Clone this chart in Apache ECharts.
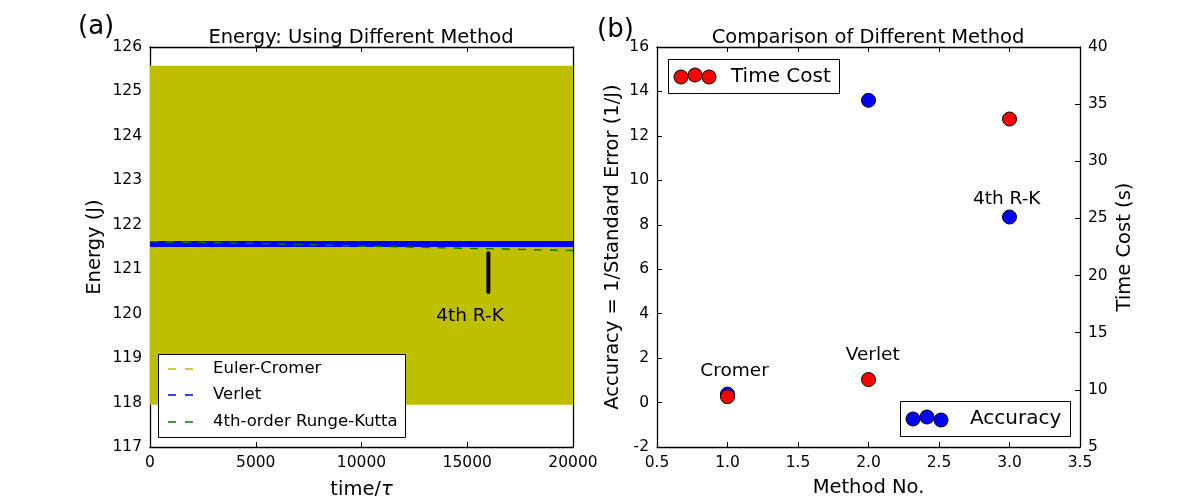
<!DOCTYPE html>
<html>
<head>
<meta charset="utf-8">
<script src="https://cdn.jsdelivr.net/npm/echarts@6/dist/echarts.min.js"></script>
<style>
  html, body { margin: 0; padding: 0; background: #fff; }
  #chart { width: 1200px; height: 496px; }
</style>
</head>
<body>
<div id="chart"></div>
<script>
// panel (a): energy vs time
const timeSteps = [0, 5000, 10000, 15000, 20000];
const eulerMax = [125.58, 125.58, 125.58, 125.58, 125.58];
const eulerMin = [117.95, 117.95, 117.95, 117.95, 117.95];
const verletEnergy = [121.57, 121.57, 121.57, 121.57, 121.57];
const rk4Energy = [121.62, 121.58, 121.52, 121.47, 121.42];
const rkMarkX = [16000, 16000];
const rkMarkY = [121.36, 120.49];
const rkTextPos = [15130, 119.95];

// panel (b): method comparison
const methodNo = [1.0, 2.0, 3.0];
const methodNames = ['Cromer', 'Verlet', '4th R-K'];
const accuracy = [0.38, 13.6, 8.35];
const timeCost = [9.4, 10.9, 33.7];
const labelX = [1.05, 2.03, 2.98];
const labelY = [1.42, 2.14, 9.16];

const FONT = 'DejaVu Sans';
const axisLine = { show: true, onZero: false, lineStyle: { color: '#000', width: 1.3 } };
const tickIn = { show: true, inside: true, length: 5, lineStyle: { color: '#000', width: 1 } };
const tickLabel = { color: '#000', fontSize: 15.5, fontFamily: FONT, margin: 8 };
const nameStyle = { fontSize: 19.5, color: '#000', fontFamily: FONT };
const hidden = { color: 'transparent', borderWidth: 0, opacity: 1 };
const noteLabel = { show: true, position: 'inside', fontSize: 18.5, color: '#000',
                    fontFamily: FONT, opacity: 1 };

function pairs(xs, ys) {
    return xs.map((x, i) => [x, ys[i]]);
}

const chart = echarts.init(document.getElementById('chart'));

const option = {
    backgroundColor: '#fff',
    animation: false,
    textStyle: { fontFamily: FONT },
    title: [
        { text: 'Energy: Using Different Method', left: 356, top: 23, textAlign: 'center',
          textStyle: { fontSize: 19.5, fontWeight: 'normal', color: '#000', fontFamily: FONT } },
        { text: 'Comparison of Different Method', left: 863, top: 23, textAlign: 'center',
          textStyle: { fontSize: 19.5, fontWeight: 'normal', color: '#000', fontFamily: FONT } }
    ],
    grid: [
        { left: 150, top: 47, width: 423, height: 400, outerBoundsMode: 'none', containLabel: false },
        { left: 657, top: 47, width: 423, height: 400, outerBoundsMode: 'none', containLabel: false }
    ],
    xAxis: [
        { gridIndex: 0, type: 'value', min: 0, max: 20000, interval: 5000,
          axisLine: axisLine, axisTick: tickIn,
          axisLabel: Object.assign({}, tickLabel, { formatter: v => String(v) }),
          splitLine: { show: false },
          name: '{a|time/}{b|τ}', nameLocation: 'middle', nameGap: 33,
          nameTextStyle: { rich: {
              a: { fontSize: 19.5, color: '#000', fontFamily: FONT },
              b: { fontSize: 19.5, color: '#000', fontFamily: FONT, fontStyle: 'italic' } } } },
        { gridIndex: 0, type: 'value', position: 'top', min: 0, max: 20000, interval: 5000,
          axisLine: axisLine, axisTick: tickIn, axisLabel: { show: false }, splitLine: { show: false } },
        { gridIndex: 1, type: 'value', min: 0.5, max: 3.5, interval: 0.5,
          axisLine: axisLine, axisTick: tickIn,
          axisLabel: Object.assign({}, tickLabel, { formatter: v => v.toFixed(1) }),
          splitLine: { show: false },
          name: 'Method No.', nameLocation: 'middle', nameGap: 31, nameTextStyle: nameStyle },
        { gridIndex: 1, type: 'value', position: 'top', min: 0.5, max: 3.5, interval: 0.5,
          axisLine: axisLine, axisTick: tickIn, axisLabel: { show: false }, splitLine: { show: false } }
    ],
    yAxis: [
        { gridIndex: 0, type: 'value', min: 117, max: 126, interval: 1,
          axisLine: axisLine, axisTick: tickIn, axisLabel: tickLabel, splitLine: { show: false },
          name: 'Energy (J)', nameLocation: 'middle', nameGap: 45, nameTextStyle: nameStyle },
        { gridIndex: 0, type: 'value', position: 'right', min: 117, max: 126, interval: 1,
          axisLine: axisLine, axisTick: tickIn, axisLabel: { show: false }, splitLine: { show: false } },
        { gridIndex: 1, type: 'value', min: -2, max: 16, interval: 2,
          axisLine: axisLine, axisTick: tickIn, axisLabel: tickLabel, splitLine: { show: false },
          name: 'Accuracy = 1/Standard Error (1/J)', nameLocation: 'middle', nameGap: 34,
          nameTextStyle: nameStyle },
        { gridIndex: 1, type: 'value', position: 'right', min: 5, max: 40, interval: 5,
          axisLine: axisLine, axisTick: tickIn, axisLabel: tickLabel, splitLine: { show: false },
          name: 'Time Cost (s)', nameLocation: 'middle', nameGap: 35, nameRotate: 90,
          nameTextStyle: nameStyle }
    ],
    series: [
        // Euler-Cromer oscillates so fast it shows as a solid band between min and max
        { name: 'Euler-Cromer', type: 'custom', xAxisIndex: 0, yAxisIndex: 0,
          data: timeSteps.map((t, i) => [t, eulerMin[i], eulerMax[i]]),
          renderItem: function (params, api) {
              if (params.dataIndex !== 0) return null;
              const upper = timeSteps.map((t, i) => api.coord([t, eulerMax[i]]));
              const lower = timeSteps.map((t, i) => api.coord([t, eulerMin[i]])).reverse();
              return { type: 'polygon', shape: { points: upper.concat(lower) },
                       style: { fill: '#bfbf00' } };
          }, silent: true, z: 1 },
        { name: 'Verlet', type: 'line', xAxisIndex: 0, yAxisIndex: 0,
          data: pairs(timeSteps, verletEnergy), symbol: 'none',
          lineStyle: { color: '#0000ff', width: 6 }, z: 2 },
        { name: '4th-order Runge-Kutta', type: 'line', xAxisIndex: 0, yAxisIndex: 0,
          data: pairs(timeSteps, rk4Energy), symbol: 'none',
          lineStyle: { color: '#008000', width: 1.4, type: [8, 8] }, z: 3 },
        { name: 'rk-mark', type: 'line', xAxisIndex: 0, yAxisIndex: 0,
          data: pairs(rkMarkX, rkMarkY), symbol: 'none',
          lineStyle: { color: '#000', width: 4, cap: 'round' }, z: 4 },
        { name: 'rk-text', type: 'scatter', xAxisIndex: 0, yAxisIndex: 0,
          data: [rkTextPos], symbolSize: 1, itemStyle: hidden, z: 5,
          label: Object.assign({}, noteLabel, { formatter: '4th R-K' }) },
        // panel (b)
        { name: 'Accuracy', type: 'scatter', xAxisIndex: 2, yAxisIndex: 2,
          data: pairs(methodNo, accuracy), symbolSize: 14, z: 2,
          itemStyle: { color: '#0000ff', borderColor: '#000', borderWidth: 1, opacity: 1 } },
        { name: 'Time Cost', type: 'scatter', xAxisIndex: 2, yAxisIndex: 3,
          data: pairs(methodNo, timeCost), symbolSize: 14, z: 3,
          itemStyle: { color: '#ff0000', borderColor: '#000', borderWidth: 1, opacity: 1 } },
        { name: 'method-names', type: 'scatter', xAxisIndex: 2, yAxisIndex: 2,
          data: labelX.map((x, i) => ({ value: [x, labelY[i]], name: methodNames[i] })),
          symbolSize: 1, itemStyle: hidden, z: 4,
          label: Object.assign({}, noteLabel, { formatter: p => p.name }) }
    ],
    graphic: [
        { type: 'text', left: 78, top: 14, style: { text: '(a)', fontSize: 26, fill: '#000', fontFamily: FONT } },
        { type: 'text', left: 597, top: 17, style: { text: '(b)', fontSize: 26, fill: '#000', fontFamily: FONT } },
        // legend (a)
        { type: 'rect', shape: { x: 158.5, y: 354.5, width: 247, height: 83 },
          style: { fill: '#fff', stroke: '#000', lineWidth: 1 }, z: 50 },
        ...[['Euler-Cromer', '#bfbf00', 369], ['Verlet', '#0000ff', 395], ['4th-order Runge-Kutta', '#008000', 422]]
            .flatMap(([txt, col, y]) => [
                { type: 'line', shape: { x1: 168, y1: y, x2: 193, y2: y },
                  style: { stroke: col, lineWidth: 1.4, lineDash: [8, 9] }, z: 51 },
                { type: 'text', x: 213, y: y, style: { text: txt, fontSize: 16.5, fill: '#000',
                  fontFamily: FONT, verticalAlign: 'middle' }, z: 51 }
            ]),
        // legend (b) Time Cost
        { type: 'rect', shape: { x: 668.5, y: 59.5, width: 171, height: 34 },
          style: { fill: '#fff', stroke: '#000', lineWidth: 1 }, z: 50 },
        ...[[681, 77], [695, 75], [709, 77]].map(([x, y]) => (
            { type: 'circle', shape: { cx: x, cy: y, r: 7 },
              style: { fill: '#ff0000', stroke: '#000', lineWidth: 1 }, z: 51 })),
        { type: 'text', x: 731, y: 77, style: { text: 'Time Cost', fontSize: 20, fill: '#000',
          fontFamily: FONT, verticalAlign: 'middle' }, z: 51 },
        // legend (b) Accuracy
        { type: 'rect', shape: { x: 900.5, y: 401.5, width: 170, height: 35 },
          style: { fill: '#fff', stroke: '#000', lineWidth: 1 }, z: 50 },
        ...[[913, 419], [927, 417], [941, 420]].map(([x, y]) => (
            { type: 'circle', shape: { cx: x, cy: y, r: 7 },
              style: { fill: '#0000ff', stroke: '#000', lineWidth: 1 }, z: 51 })),
        { type: 'text', x: 970, y: 419, style: { text: 'Accuracy', fontSize: 20, fill: '#000',
          fontFamily: FONT, verticalAlign: 'middle' }, z: 51 }
    ]
};

chart.setOption(option);
</script>
</body>
</html>
